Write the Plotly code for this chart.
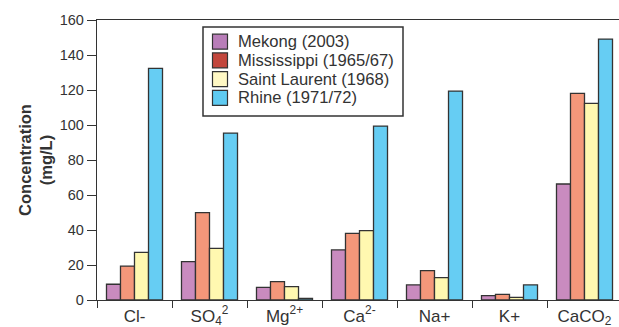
import plotly.graph_objects as go

categories = ["Cl-", "SO<sub>4</sub><sup>2</sup>", "Mg<sup>2+</sup>", "Ca<sup>2-</sup>", "Na+", "K+", "CaCO<sub>2</sub>"]
series_names = ["Mekong (2003)", "Mississippi (1965/67)", "Saint Laurent (1968)", "Rhine (1971/72)"]
mekong = [9.0, 21.9, 7.2, 28.6, 8.6, 2.5, 66.3]
mississippi = [19.4, 49.9, 10.5, 38.1, 16.8, 3.2, 118.1]
saint_laurent = [27.2, 29.5, 7.6, 39.6, 12.8, 1.5, 112.4]
rhine = [132.4, 95.4, 0.9, 99.4, 119.4, 8.6, 149.1]
bar_colors = ["#C98BBF", "#F4977A", "#FFF8B0", "#66CDF3"]
legend_colors = ["#B87DB8", "#C2463C", "#FFF8C4", "#5FCBF2"]
y_ticks = [0, 20, 40, 60, 80, 100, 120, 140, 160]

W, H = 619, 327
ML, MR, MT, MB = 97, 0, 20, 27
PW, PH = W - ML - MR, H - MT - MB


def px(x):
    return (x - ML) / PW


def py(y):
    return (H - MB - y) / PH


fig = go.Figure()
for name, vals, col in zip(series_names, [mekong, mississippi, saint_laurent, rhine], bar_colors):
    fig.add_trace(go.Bar(x=categories, y=vals, name=name, showlegend=False,
                         marker=dict(color=col, line=dict(color="#333333", width=1.3))))

# legend drawn as a boxed key
shapes = [dict(type="rect", xref="paper", yref="paper", x0=px(203), x1=px(403), y0=py(116), y1=py(27),
               line=dict(color="#333333", width=1.5), fillcolor="white", layer="above")]
annotations = []
row0, row_step = 41.7, 18.7
for i, (name, col) in enumerate(zip(series_names, legend_colors)):
    yc = row0 + i * row_step
    shapes.append(dict(type="rect", xref="paper", yref="paper", x0=px(212.5), x1=px(227.5),
                       y0=py(yc + 7.5), y1=py(yc - 7.5), fillcolor=col,
                       line=dict(color="#333333", width=1.2), layer="above"))
    annotations.append(dict(text=name, xref="paper", yref="paper", x=px(235.5), y=py(yc),
                            xanchor="left", yanchor="middle", showarrow=False,
                            font=dict(size=16.6, color="#333333")))

fig.update_layout(
    width=W, height=H,
    margin=dict(l=ML, r=MR, t=MT, b=MB),
    plot_bgcolor="white", paper_bgcolor="white",
    barmode="group", bargap=0.253, bargroupgap=0,
    showlegend=False,
    font=dict(family="Liberation Sans, Arial", color="#333333", size=14),
    shapes=shapes, annotations=annotations,
    xaxis=dict(type="category", range=[-0.5, 6.46], showline=True, linecolor="#333333",
               linewidth=1.3, mirror=True, ticks="outside", tickson="boundaries",
               ticklen=7, tickcolor="#333333", tickfont=dict(size=17, color="#333333"),
               showgrid=False, fixedrange=True),
    yaxis=dict(range=[0, 160], tickvals=y_ticks, showline=True, linecolor="#333333",
               linewidth=1.3, ticks="outside", ticklen=9, tickcolor="#333333",
               tickfont=dict(size=14.5, color="#333333"), showgrid=False, zeroline=False,
               title=dict(text="<b>Concentration<br>(mg/L)</b>", font=dict(size=16.5, color="#333333"),
                          standoff=2)),
)
fig.write_html("out.html")
